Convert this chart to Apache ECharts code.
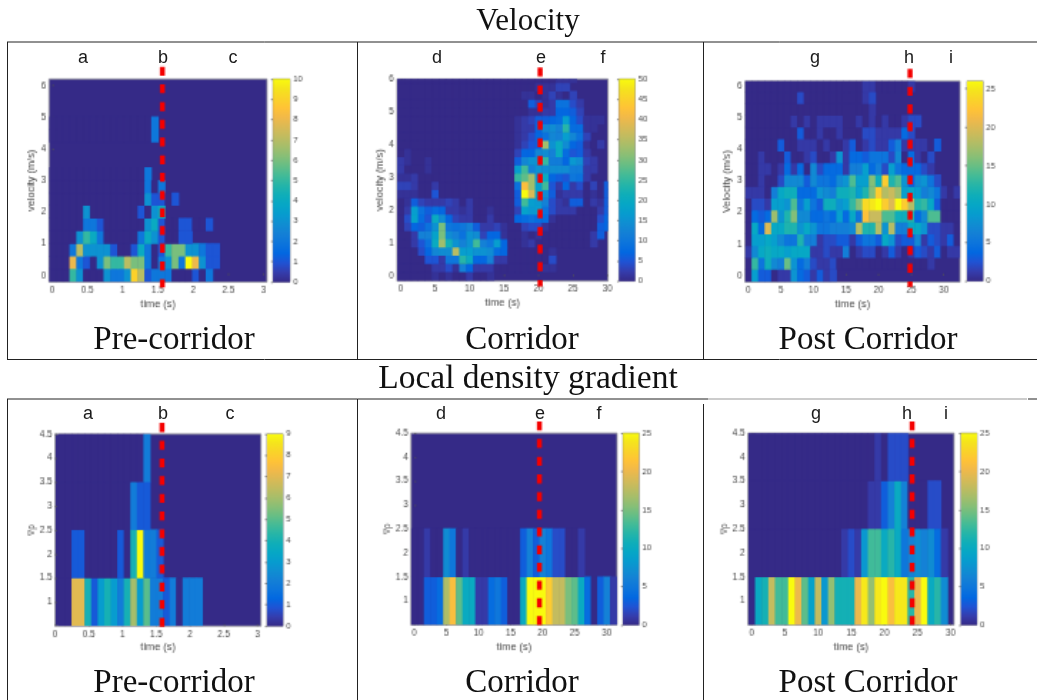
<!DOCTYPE html>
<html><head><meta charset="utf-8">
<style>html,body{margin:0;padding:0;background:#fff}
#main,#frame{position:absolute;left:0;top:0;width:1037px;height:700px}
</style>
<script src="https://cdn.jsdelivr.net/npm/echarts@6/dist/echarts.min.js"></script>
</head><body><div id="main"></div><div id="frame"></div>
<script>
const parula = ["#352a87","#353dad","#2053d4","#0268e1","#0d75dc","#1480d6","#108ed2","#079ccf","#06a7c6","#0faeb9","#25b5a9","#42bb98","#65be86","#87bf77","#a5be6b","#c0bc60","#d9ba56","#f1b94a","#ffc337","#fad32a","#f5e41d","#f9fb0e"];

const vel1Rows = [
[0,0,0,5,3,0,0,0,3,2,2,3,9,7,1,2,2,2,0,0,0,1,0,2],
[0,0,0,8,2,1,0,3,6,5,5,7,6,6,2,0,2,3,6,2,10,8,3,1,1],
[0,0,0,2,7,3,3,3,3,1,0,0,1,4,2,0,1,5,6,6,3,3,2,1,1],
[0,0,0,0,3,5,4,2,0,0,0,0,0,2,4,3,1,0,0,1,1],
[0,0,0,0,0,2,2,1,0,0,0,0,0,0,3,4,1,0,0,1,1,0,0,1],
[0,0,0,0,0,3,0,0,0,0,0,0,0,1,0,3,4],
[0,0,0,0,0,0,0,0,0,0,0,0,0,0,3,1,1,0,1],
[0,0,0,0,0,0,0,0,0,0,0,0,0,0,2,0,2],
[0,0,0,0,0,0,0,0,0,0,0,0,0,0,2],
[],[],
[0,0,0,0,0,0,0,0,0,0,0,0,0,0,0,2],
[0,0,0,0,0,0,0,0,0,0,0,0,0,0,0,2],
[],[],[]
];
const vel2Rows = [
[0,0,0,0,0,1,0,1,0,0,2,0,0,1],
[0,0,0,0,0,2,2,4,1,12,7,2,2,2,0,0,0,0,0,0,0,1,1],
[0,0,0,0,5,5,2,10,10,24,20,7,7,12,2,2,0,0,0,0,0,0,4],
[0,0,0,4,7,13,14,14,35,17,17,15,15,14,8,7,0,0,0,0,0,0,1],
[0,0,2,5,9,20,33,22,15,12,15,26,12,10,17,7,0,0,1,2,0,0,0,0,0,0,0,0,2],
[0,0,2,12,12,18,30,14,12,9,15,14,3,7,7,1,0,0,1,0,1,0,0,0,0,0,0,0,2,6],
[0,3,7,6,9,15,30,10,9,10,12,6,2,2,3,1,0,0,3,4,4,1,0,0,0,0,0,0,0,6,7],
[0,4,18,8,5,20,14,7,3,2,2,0,0,2,0,0,0,7,8,9,8,8,1,0,0,0,0,0,0,4,7],
[0,2,17,9,6,8,7,2,2,1,2,0,0,1,0,0,0,3,18,16,17,9,4,2,2,2,0,0,0,2,6],
[0,1,6,3,2,2,2,3,2,0,2,0,0,0,0,0,0,6,26,17,16,12,4,2,1,6,6,0,2,1,6],
[1,1,1,0,0,5,0,0,0,0,0,0,0,0,0,0,0,6,50,38,18,14,6,1,2,2,2,0,1,0,6],
[3,3,2,0,0,2,0,0,0,0,0,0,0,0,0,0,0,9,42,33,17,26,5,2,7,2,4,0,3,0,6],
[1,1,2,0,0,0,0,0,0,0,0,0,0,0,0,0,0,25,28,33,15,20,7,6,5,10,9,2],
[2,0,0,0,1,0,0,0,0,0,0,0,0,0,0,0,0,17,26,12,15,14,14,14,14,11,11,2,2],
[2,1,0,0,1,0,0,0,0,0,0,0,0,0,0,0,0,6,13,15,15,25,11,11,7,16,14,3,2],
[0,1,0,0,0,0,0,0,0,0,0,0,0,0,0,0,0,3,7,7,13,14,12,20,8,5,6,2],
[0,0,0,0,0,0,0,0,0,0,0,0,0,0,0,0,0,1,3,5,6,33,15,20,14,7,6,1,0,2],
[0,0,0,0,0,0,0,0,0,0,0,0,0,0,0,0,0,1,2,4,7,9,13,12,17,13,9,3],
[0,0,0,0,0,0,0,0,0,0,0,0,0,0,0,0,0,1,2,2,7,13,14,12,24,8,8,1,1],
[0,0,0,0,0,0,0,0,0,0,0,0,0,0,0,0,0,1,2,3,6,6,7,8,17,7,4,1,1,1],
[0,0,0,0,0,0,0,0,0,0,0,0,0,0,0,0,0,0,0,1,1,2,2,7,7,6,3],
[0,0,0,0,0,0,0,0,0,0,0,0,0,0,0,0,0,0,0,6,3,1,2,9,9,4,2],
[0,0,0,0,0,0,0,0,0,0,0,0,0,0,0,0,0,0,1,1,0,1,3,1,0,3],
[0,0,0,0,0,0,0,0,0,0,0,0,0,0,0,0,0,0,0,0,1,1,1,3,3],
[0,0,0,0,0,0,0,0,0,0,0,0,0,0,0,0,0,0,0,0,0,0,0,1,1,1]
];
const vel3Rows = [
[0,9,3,3,0,1,1,8,4,3,1,3,1,2],
[0,13,5,11,7,6,15,8,4,6,2,1,1,2,0,0,0,0,0,0,0,0,0,0,0,0,0,0,1],
[1,7,10,11,10,10,9,10,10,10,1,1,2,1,1,6,0,1,2,2,0,1,3,1,0,1,3,2,1,3,0,1,1],
[0,9,9,10,9,7,5,5,12,6,6,1,2,2,3,3,1,3,5,5,3,10,8,2,3,3,7,1,3,2,1,3,0],
[0,10,4,20,10,10,12,12,8,10,8,5,5,6,6,6,7,18,12,12,18,8,18,6,6,10,10,8,2,2,1,1,0],
[0,4,3,4,17,8,12,16,7,7,4,4,5,4,9,4,10,5,22,19,19,14,14,11,11,12,4,7,14,14,0,0,0],
[0,2,2,1,9,9,8,14,5,9,5,3,11,11,8,9,13,16,24,25,26,23,20,26,23,18,12,13,10,3,0,0,0],
[1,1,1,0,6,10,11,11,4,4,4,8,7,6,11,11,12,9,12,16,23,18,19,17,9,10,9,6,7,5,1,0,1],
[0,0,1,0,0,2,7,7,7,3,7,5,5,4,7,8,14,9,9,16,11,23,12,14,8,3,7,8,5,2],
[0,0,1,1,0,1,4,1,4,0,7,2,4,4,4,1,6,6,9,4,6,2,9,5,4,4,4,2,1],
[0,0,1,0,0,0,3,0,0,1,2,0,0,1,8,1,4,4,3,5,5,5,2,7,0,4,1,0,2],
[0,0,0,0,0,3,0,0,1,1,1,0,1,0,0,1,3,0,1,2,1,1,3,6,1,1,1,1,0,3],
[0,0,0,0,0,0,0,0,3,0,0,1,0,0,1,0,0,0,2,2,1,1,1,1,4,2],
[0,0,0,0,0,0,0,1,0,1,0,1,1,1,1,0,0,1,0,1,0,1,0,0,1,2,2],
[0,0,0,0,0,0,0,0,0,0,0,0,0,0,0,0,0,0,0,1],
[0,0,0,0,0,0,0,0,2,0,0,0,0,0,0,0,0,0,1,2],
[0,0,0,0,0,0,0,0,0,0,0,0,0,0,0,0,0,0,1,1,0,0,0,0,0,1]
];
const grad1Rows = [
[0,0,7,7,4,1,3,4,3,2,4,6,3,5,2,2,1,2,0,2,2,2],
[0,0,1,1,0,0,0,0,0,1,0,4,9,2,2,1],
[0,0,0,0,0,0,0,0,0,0,0,2,1,1],
[0,0,0,0,0,0,0,0,0,0,0,0,0,2]
];
const grad2Rows = [
[0,0,3,3,4,17,21,14,10,10,1,1,4,5,3,0,0,10,25,25,25,22,18,18,15,14,10,4,0,3,6,1],
[0,0,1,0,0,7,5,0,1,0,0,0,0,0,0,0,0,3,6,3,6,5,2,2,0,0,1]
];
const grad3Rows = [
[0,10,11,18,13,13,25,20,14,9,18,8,16,11,11,11,20,24,16,24,25,21,24,24,12,20,25,10,12,7],
[0,0,0,0,0,0,0,0,0,0,0,0,0,0,1,2,1,8,13,13,10,12,10,5,6,7,6,7,4,1],
[0,0,0,0,0,0,0,0,0,0,0,0,0,0,0,0,0,0,1,1,3,6,10,6,0,0,0,2,2],
[0,0,0,0,0,0,0,0,0,0,0,0,0,0,0,0,0,0,0,1,0,2,2,2]
];

const timeTicks3 = [0,0.5,1,1.5,2,2.5,3];
const timeTicks30 = [0,5,10,15,20,25,30];
const velTicks = [0,1,2,3,4,5,6];
const gradTicks = [1,1.5,2,2.5,3,3.5,4,4.5];
const colorTicks10 = [0,1,2,3,4,5,6,7,8,9,10];
const colorTicks50 = [0,5,10,15,20,25,30,35,40,45,50];
const colorTicks26 = [0,5,10,15,20,25];
const colorTicks9 = [0,1,2,3,4,5,6,7,8,9];
const colorTicks25 = [0,5,10,15,20,25];

const headings = ["Velocity","Local density gradient"];
const captions = ["Pre-corridor","Corridor","Post Corridor"];
const letters = [["a","b","c"],["d","e","f"],["g","h","i"]];

const panels = [
 {rows:vel1Rows, x0:-0.045,dx:0.0967,y0:-0.2,dy:0.4, xr:[-0.045,3.05],yr:[-0.21,6.21], xt:timeTicks3,yt:velTicks, name:"velocity (m/s)", gap:5, box:[49,79,218,203], cb:[273,79,17,203], cmax:10,ct:colorTicks10, line:[1.564,6.6,-0.38], let:[83,163,233], ly:58, lc:0},
 {rows:vel2Rows, x0:-0.5,dx:1,y0:-0.125,dy:0.25, xr:[-0.53,30.1],yr:[-0.14,6], xt:timeTicks30,yt:velTicks, name:"velocity (m/s)", gap:3, box:[397,79,211,202], cb:[619,79,16,202], cmax:50,ct:colorTicks50, line:[20.24,6.35,-0.3], let:[437,541,603], ly:58, lc:1},
 {rows:vel3Rows, x0:-0.5,dx:1,y0:-0.1875,dy:0.375, xr:[-0.5,32.5],yr:[-0.2,6.16], xt:timeTicks30,yt:velTicks, name:"Velocity (m/s)", gap:5, box:[745,81,215,201], cb:[967,81,16,200], cmax:26,ct:colorTicks26, line:[24.83,6.54,-0.35], let:[815,909,951], ly:58, lc:2},
 {rows:grad1Rows, x0:0.05,dx:3/31,y0:0.5,dy:1, xr:[0,3.05],yr:[0.5,4.5], xt:timeTicks3,yt:gradTicks, name:"∇ρ", gap:12, box:[55,434,206,192], cb:[267,434,16,192], cmax:9,ct:colorTicks9, line:[1.584,4.73,0.4], let:[88,163,230], ly:414, lc:0},
 {rows:grad2Rows, x0:-0.5,dx:1,y0:0.5,dy:1, xr:[-0.5,31.6],yr:[0.5,4.5], xt:timeTicks30,yt:gradTicks, name:"∇ρ", gap:11, box:[411,433,206,192], cb:[623,433,16,192], cmax:25,ct:colorTicks25, line:[19.5,4.745,0.39], let:[441,540,599], ly:414, lc:1},
 {rows:grad3Rows, x0:-0.5,dx:1,y0:0.5,dy:1, xr:[-0.55,30.5],yr:[0.5,4.5], xt:timeTicks30,yt:gradTicks, name:"∇ρ", gap:12, box:[748,433,206,192], cb:[961,433,16,192], cmax:25,ct:colorTicks25, line:[24.18,4.745,0.39], let:[816,907,946], ly:414, lc:2}
];

const grey = "#4a4a4a", sans = "Liberation Sans", serif = "Liberation Serif";
const grid=[],xAxis=[],yAxis=[],series=[],visualMap=[];

function cellRender(dx,dy){
  return function(params,api){
    const a=api.coord([api.value(0),api.value(1)]), b=api.coord([api.value(0)+dx,api.value(1)+dy]);
    return {type:"rect",shape:{x:a[0],y:b[1]-0.7,width:b[0]-a[0]+0.7,height:a[1]-b[1]+0.7},style:{fill:api.visual("color")}};
  };
}
function barRender(params,api){
  const a=api.coord([0,api.value(0)]), b=api.coord([1,api.value(1)]);
  const stops=parula.map((c,i)=>({offset:i/(parula.length-1),color:c}));
  return {type:"rect",shape:{x:a[0],y:b[1],width:b[0]-a[0],height:a[1]-b[1]},
    style:{fill:new echarts.graphic.LinearGradient(0,1,0,0,stops)}};
}
const tickStyle={show:true,inside:true,length:2,lineStyle:{color:"#555",width:1}};

panels.forEach((p,i)=>{
  grid.push({left:p.box[0],top:p.box[1],width:p.box[2],height:p.box[3],show:true,backgroundColor:parula[0],borderColor:"#999999",borderWidth:1,containLabel:false});
  const isGrad = i>=3;
  xAxis.push({type:"value",gridIndex:i,min:p.xr[0],max:p.xr[1],splitLine:{show:false},axisLine:{show:false},
    axisTick:Object.assign({customValues:p.xt},tickStyle),
    axisLabel:{customValues:p.xt,color:grey,fontSize:9,fontFamily:sans,margin:4},
    name:"time (s)",nameLocation:"middle",nameGap:16,nameTextStyle:{color:grey,fontSize:10.5,fontFamily:sans}});
  yAxis.push({type:"value",gridIndex:i,min:p.yr[0],max:p.yr[1],splitLine:{show:false},axisLine:{show:false},
    axisTick:Object.assign({customValues:p.yt},tickStyle),
    axisLabel:{customValues:p.yt,color:grey,fontSize:9,fontFamily:sans,margin:3},
    name:p.name,nameLocation:"middle",nameGap:p.gap,nameTextStyle:{color:grey,fontSize:isGrad?9:10.5,fontFamily:sans}});
  const data=[];
  p.rows.forEach((row,r)=>row.forEach((v,c)=>data.push([p.x0+c*p.dx,p.y0+r*p.dy,v])));
  series.push({type:"custom",name:"cells"+i,xAxisIndex:i,yAxisIndex:i,clip:true,coordinateSystem:"cartesian2d",
    renderItem:cellRender(p.dx,p.dy),encode:{x:0,y:1},data:data,silent:true,z:2});
  visualMap.push({type:"continuous",show:false,seriesIndex:i,dimension:2,min:0,max:p.cmax,inRange:{color:parula}});
});
panels.forEach((p,i)=>{
  const g=i+6;
  grid.push({left:p.cb[0],top:p.cb[1],width:p.cb[2],height:p.cb[3],show:true,borderColor:"#999999",borderWidth:1,backgroundColor:parula[0]});
  xAxis.push({type:"value",gridIndex:g,min:0,max:1,show:false});
  yAxis.push({type:"value",gridIndex:g,min:0,max:p.cmax,position:"right",splitLine:{show:false},axisLine:{show:false},
    axisTick:Object.assign({customValues:p.ct},tickStyle),
    axisLabel:{customValues:p.ct,color:grey,fontSize:8.5,fontFamily:sans,margin:3}});
  series.push({type:"custom",name:"colorbar"+i,xAxisIndex:g,yAxisIndex:g,renderItem:barRender,encode:{y:[0,1]},data:[[0,p.cmax]],silent:true});
});
panels.forEach((p,i)=>{
  series.push({type:"line",name:"marker"+i,xAxisIndex:i,yAxisIndex:i,clip:false,symbol:"none",silent:true,z:10,
    lineStyle:{color:"#f40000",width:5,type:[9,8.7],cap:"butt"},
    data:[[p.line[0],p.line[1]],[p.line[0],p.line[2]]]});
});

function text(list,t,x,y,font,size,color){list.push({type:"text",silent:true,z:20,x:x,y:y,style:{text:t,x:0,y:0,align:"center",verticalAlign:"middle",fontFamily:font,fontSize:size,fill:color}});}

const chart=echarts.init(document.getElementById("main"),null,{renderer:"canvas",width:1037,height:700,devicePixelRatio:0.7001});
chart.setOption({animation:false,backgroundColor:"#fff",grid,xAxis,yAxis,series,visualMap});

const lines=[[7,42,1037,42],[7,359.5,1037,359.5],[7.5,42,7.5,360],[357.5,42,357.5,360],[703.5,42,703.5,360],
 [7,399,708,399],[708,399,1027,399],[1028,399,1037,399],[7.5,399,7.5,700],[357.5,399,357.5,700],[703.5,404,703.5,700]];
const frameMarks=[];
lines.forEach((l,i)=>frameMarks.push({type:"line",silent:true,z:20,shape:{x1:l[0],y1:l[1],x2:l[2],y2:l[3]},style:{stroke:i===6?"#999":"#222",lineWidth:1}}));
text(frameMarks,headings[0],528,22,serif,31,"#111");
text(frameMarks,headings[1],528,379,serif,33.5,"#111");
[[174,340],[522,340],[868,340],[174,683],[522,683],[868,683]].forEach((c,i)=>text(frameMarks,captions[i%3],c[0],c[1],serif,33,"#111"));
panels.forEach(p=>p.let.forEach((x,k)=>text(frameMarks,letters[p.lc][k],x,p.ly,sans,18,"#1a1a1a")));
const frame=echarts.init(document.getElementById("frame"),null,{renderer:"canvas",width:1037,height:700});
frame.setOption({animation:false,backgroundColor:"transparent",graphic:frameMarks});
</script></body></html>
